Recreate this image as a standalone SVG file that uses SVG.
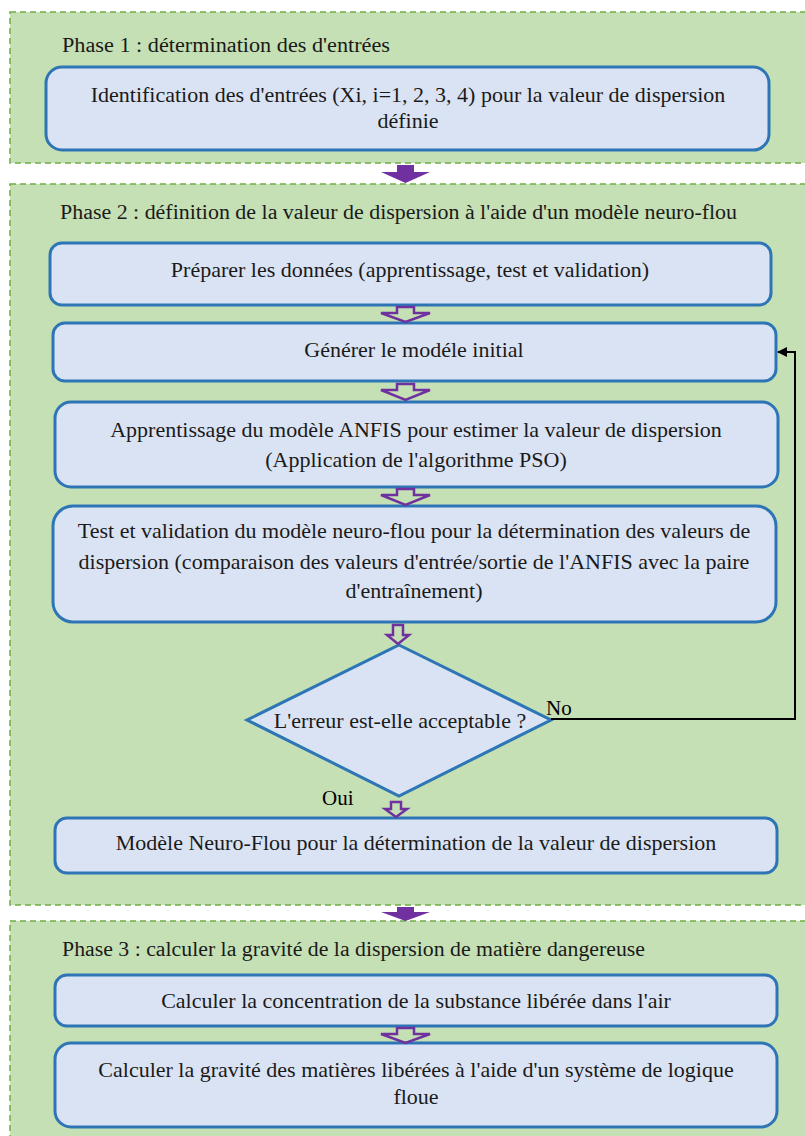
<svg xmlns="http://www.w3.org/2000/svg" width="805" height="1136" viewBox="0 0 805 1136">
  <defs>
    <style>
      .phase { fill: #c5e0b4; stroke: #70ad47; stroke-width: 1.5; stroke-dasharray: 6 4; }
      .box { fill: #dae3f3; stroke: #2e75b6; stroke-width: 3; }
      .t { font-family: 'Liberation Serif', 'Times New Roman', serif; font-size: 22px; fill: #1a1a1a; text-anchor: middle; }
      .title { font-family: 'Liberation Serif', 'Times New Roman', serif; font-size: 20px; fill: #1a1a1a; }
      .lbl { font-family: 'Liberation Serif', 'Times New Roman', serif; font-size: 21px; fill: #000; }
      .solid { fill: #7030a0; }
      .hollow { fill: none; stroke: #7030a0; stroke-width: 2.5; stroke-linejoin: miter; }
      .link { fill: none; stroke: #000; stroke-width: 2; }
    </style>
    <marker id="tri" viewBox="0 0 10 10" refX="9" refY="5" markerWidth="5" markerHeight="5" orient="auto">
      <path d="M0,0 L10,5 L0,10 z" fill="#000"/>
    </marker>
  </defs>

  <rect width="805" height="1136" fill="#ffffff"/>

  <!-- Phase containers -->
  <g id="phase1">
    <rect class="phase" x="10" y="12" width="810" height="151"/>
    <text class="title" x="62" y="52" textLength="328" lengthAdjust="spacingAndGlyphs">Phase 1 : détermination des  d'entrées</text>
  </g>
  <g id="phase2">
    <rect class="phase" x="10" y="184" width="810" height="721"/>
    <text class="title" x="60" y="219" textLength="677" lengthAdjust="spacingAndGlyphs">Phase 2 : définition de la valeur de dispersion à l'aide d'un modèle neuro-flou</text>
  </g>
  <g id="phase3">
    <rect class="phase" x="10" y="921" width="810" height="230"/>
    <text class="title" x="62" y="956" textLength="583" lengthAdjust="spacingAndGlyphs">Phase 3 : calculer la gravité de la dispersion de matière dangereuse</text>
  </g>

  <!-- Process nodes -->
  <g id="n-identification">
    <rect class="box" x="46" y="67" width="723" height="83" rx="16"/>
    <text class="t" x="408" y="102">Identification des d'entrées (Xi, i=1, 2, 3, 4) pour la valeur de dispersion</text>
    <text class="t" x="408" y="128">définie</text>
  </g>
  <g id="n-preparer">
    <rect class="box" x="50" y="243" width="721" height="62" rx="12"/>
    <text class="t" x="410" y="277">Préparer les données (apprentissage, test et validation)</text>
  </g>
  <g id="n-generer">
    <rect class="box" x="53" y="323" width="723" height="58" rx="12"/>
    <text class="t" x="414" y="357">Générer le modéle initial</text>
  </g>
  <g id="n-apprentissage">
    <rect class="box" x="55" y="402" width="723" height="85" rx="16"/>
    <text class="t" x="416" y="437">Apprentissage du modèle ANFIS pour estimer la valeur de dispersion</text>
    <text class="t" x="416" y="467">(Application de l'algorithme PSO)</text>
  </g>
  <g id="n-test">
    <rect class="box" x="53" y="506" width="723" height="116" rx="20"/>
    <text class="t" x="414" y="538">Test et validation du modèle neuro-flou pour la détermination des valeurs de</text>
    <text class="t" x="414" y="569">dispersion (comparaison des valeurs d'entrée/sortie de l'ANFIS avec la paire</text>
    <text class="t" x="414" y="598">d'entraînement)</text>
  </g>
  <g id="n-decision">
    <polygon class="box" points="399,645 551,720 399,796 247,720"/>
    <text class="t" x="400" y="728">L'erreur est-elle acceptable ?</text>
  </g>
  <g id="n-modele">
    <rect class="box" x="55" y="818" width="722" height="55" rx="12"/>
    <text class="t" x="416" y="850">Modèle Neuro-Flou pour la détermination de la valeur de dispersion</text>
  </g>
  <g id="n-concentration">
    <rect class="box" x="55" y="975" width="722" height="51" rx="12"/>
    <text class="t" x="416" y="1008">Calculer la concentration de la substance libérée dans l'air</text>
  </g>
  <g id="n-gravite">
    <rect class="box" x="55" y="1043" width="722" height="84" rx="16"/>
    <text class="t" x="416" y="1077">Calculer la gravité des matières libérées à l'aide d'un système de logique</text>
    <text class="t" x="416" y="1104">floue</text>
  </g>

  <!-- Connectors -->
  <g id="connectors">
    <!-- between phases -->
    <polygon class="solid" points="397,165 414,165 414,172 430,172 405.5,183 381,172 397,172"/>
    <polygon class="solid" points="397,907 414,907 414,912 430,912 405.5,921 381,912 397,912"/>
    <!-- within phases -->
    <polygon class="hollow" points="397,307 414,307 414,313 430,313 405.5,322 381,313 397,313"/>
    <polygon class="hollow" points="397,384 414,384 414,390 430,390 405.5,400 381,390 397,390"/>
    <polygon class="hollow" points="397,489 414,489 414,495 430,495 405.5,505 381,495 397,495"/>
    <polygon class="hollow" points="393,625 403,625 403,635 409,635 398,644 387,635 393,635"/>
    <polygon class="hollow" points="391,802 401,802 401,809 407,809 396,817 385,809 391,809"/>
    <polygon class="hollow" points="397,1028 414,1028 414,1034 430,1034 405.5,1043 381,1034 397,1034"/>
    <!-- loop back when error not acceptable -->
    <polyline class="link" points="551,719 795,719 795,352 778,352" marker-end="url(#tri)"/>
    <text class="lbl" x="546" y="715">No</text>
    <text class="lbl" x="322" y="805">Oui</text>
  </g>
</svg>
